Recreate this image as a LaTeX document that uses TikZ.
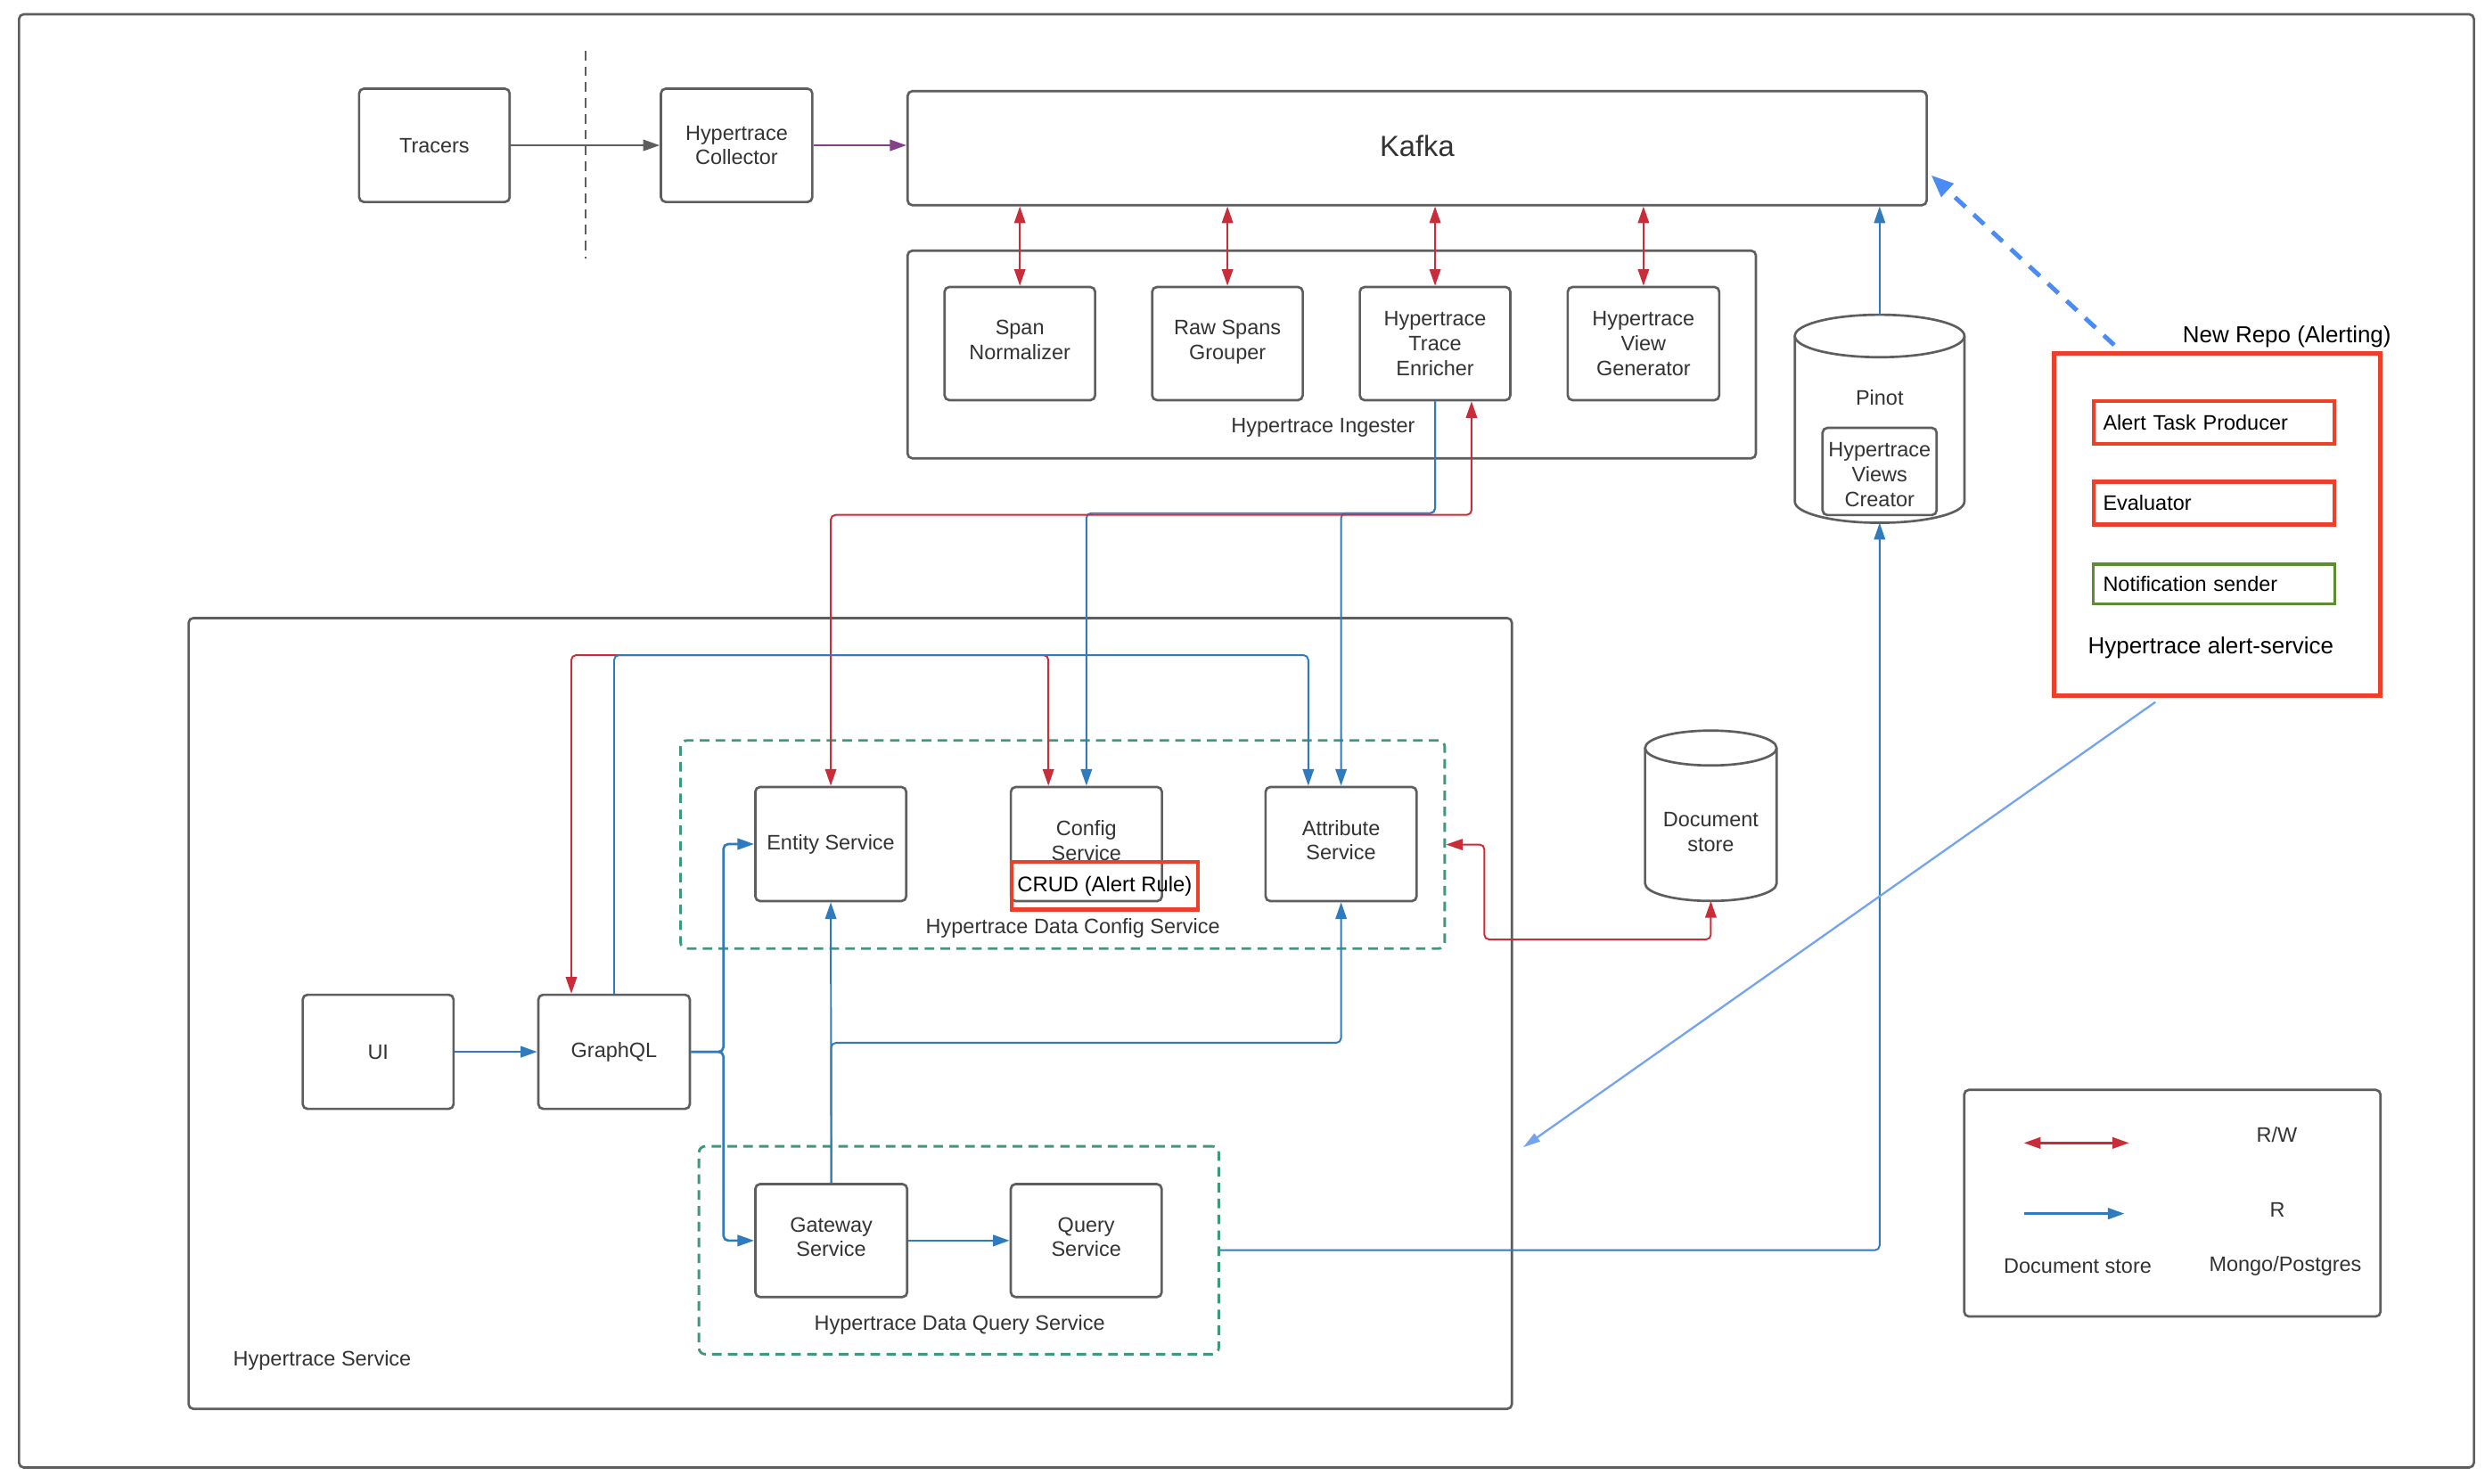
\documentclass[tikz,border=0pt]{standalone}
\usepackage{fontspec}
\setmainfont{Liberation Sans}
\usetikzlibrary{arrows.meta}
\definecolor{boxgray}{HTML}{5E5E5E}
\definecolor{txtc}{HTML}{333333}
\definecolor{redc}{HTML}{C92D39}
\definecolor{bluec}{HTML}{2F7BBD}
\definecolor{greend}{HTML}{3C9A7B}
\definecolor{alertred}{HTML}{EA412B}
\definecolor{notegreen}{HTML}{5E8C31}
\definecolor{purplec}{HTML}{834187}
\definecolor{dashblue}{HTML}{4A8BF5}
\definecolor{lightblue}{HTML}{74A4F0}
\newcommand{\fsn}{\fontsize{13.2pt}{15.6pt}\selectfont}
\newcommand{\fsl}{\fontsize{14.6pt}{17pt}\selectfont}
\begin{document}
\begin{tikzpicture}[x=1pt,y=-1pt,
  every node/.style={font=\fsn, text=txtc, align=center},
  box/.style={draw=boxgray, line width=1.5pt, rounded corners=3pt, fill=white, inner sep=0pt},
  up2/.style={text depth=4.5pt},
  cont/.style={draw=boxgray, line width=1.5pt, rounded corners=3pt, inner sep=0pt},
  gdash/.style={draw=greend, line width=1.6pt, dash pattern=on 6pt off 4pt, rounded corners=4pt, inner sep=0pt},
  abox/.style={line width=2.5pt, minimum height=27pt, text width=140pt, inner xsep=6pt, inner ysep=0pt, align=left, text=black},
  cyl/.style={draw=boxgray, line width=1.5pt, fill=white},
  rw/.style={draw=redc, line width=1.1pt, rounded corners=3pt, {Triangle[length=10.5pt,width=7pt]}-{Triangle[length=10.5pt,width=7pt]}},
  rd/.style={draw=bluec, line width=1.1pt, rounded corners=3pt, -{Triangle[length=10.5pt,width=7pt]}},
  rdt/.style={rd, line width=1.5pt},
]
\useasboundingbox (0,0) rectangle (1568,936);
\fill[white] (0,0) rectangle (1568,936);

% outer frame
\node[cont, minimum width=1549pt, minimum height=917pt] (frame) at (786.5,467.5) {};

% separator
\coordinate (sepT) at (369.4,32);
\coordinate (sepB) at (369.4,163);
\draw[boxgray, line width=0.9pt, dash pattern=on 6pt off 4pt] (sepT) -- (sepB);

% top row
\node[box, minimum width=95pt, minimum height=71.5pt] (tracers) at (274.1,91.7) {Tracers};
\node[box, minimum width=95.5pt, minimum height=71.5pt] (collector) at (464.8,91.7) {Hypertrace\\Collector};
\node[box, minimum width=643pt, minimum height=72pt, text depth=3.2pt, font=\fontsize{18.4pt}{22pt}\selectfont] (kafka) at (894.2,93.5) {Kafka};

% ingester
\node[cont, minimum width=535.3pt, minimum height=131pt] (ingester) at (840.3,223.7) {};
\node (ingl) at (834.9,270) {Hypertrace Ingester};
\node[box, up2, minimum width=95pt, minimum height=71.4pt] (span) at (643.5,216.8) {Span\\Normalizer};
\node[box, up2, minimum width=95pt, minimum height=71.4pt] (raw) at (774.5,216.8) {Raw Spans\\Grouper};
\node[box, minimum width=95pt, minimum height=71.4pt] (enricher) at (905.5,216.8) {Hypertrace\\Trace\\Enricher};
\node[box, minimum width=95.6pt, minimum height=71.4pt] (viewgen) at (1037,216.8) {Hypertrace\\View\\Generator};

% pinot
\draw[cyl] (1132.5,212) -- (1132.5,316.5) arc[start angle=180,end angle=360,x radius=53.5pt,y radius=13.4pt] -- (1239.5,212);
\draw[cyl] (1186,212) ellipse [x radius=53.5pt, y radius=13.4pt];
\coordinate (pinotT) at (1186,198.6);
\coordinate (pinotB) at (1186,329.9);
\node (pinotl) at (1186,251) {Pinot};
\node[box, minimum width=72pt, minimum height=55pt] (views) at (1186,297.5) {};
\node (viewsl) at (1186,299.6) {Hypertrace\\Views\\Creator};

% alert service
\node[draw=alertred, line width=3pt, minimum width=206pt, minimum height=216pt, inner sep=0pt] (alert) at (1399,331) {};
\node[text=black, font=\fsl] (newrepo) at (1443,212.7) {New Repo (Alerting)};
\node[abox, draw=alertred] (atp) at (1397,266.5) {Alert Task Producer};
\node[abox, draw=alertred] (eval) at (1397,317.5) {Evaluator};
\node[abox, draw=notegreen, line width=1.8pt, minimum height=25pt] (notif) at (1397,368.5) {Notification sender};
\node[text=black, font=\fsl] (alertl) at (1395,408.7) {Hypertrace alert-service};

% hypertrace service
\node[cont, minimum width=835pt, minimum height=499pt] (svc) at (536.5,639.5) {};
\node[anchor=west, inner sep=0pt] (svcl) at (147,858.6) {Hypertrace Service};

% data config service
\node[gdash, minimum width=482.2pt, minimum height=131.3pt] (ccont) at (670.5,532.9) {};
\node (ccl) at (677,585.9) {Hypertrace Data Config Service};
\node[box, minimum width=95.2pt, minimum height=72pt] (entity) at (524.2,532.6) {Entity Service};
\node[box, minimum width=95.3pt, minimum height=72pt] (config) at (685.5,532.6) {};
\node (configl) at (685.5,530.3) {Config\\Service};
\node[draw=alertred, line width=2.5pt, minimum width=117.6pt, minimum height=30pt, inner sep=0pt, text=black, font=\fontsize{13.4pt}{16pt}\selectfont] (crud) at (697,559) {CRUD (Alert Rule)};
\node[box, text depth=5pt, minimum width=95.3pt, minimum height=72pt] (attribute) at (846.2,532.6) {Attribute\\Service};

% document store
\draw[cyl] (1038,472) -- (1038,557.5) arc[start angle=180,end angle=360,x radius=41.5pt,y radius=11pt] -- (1121,472);
\draw[cyl] (1079.5,472) ellipse [x radius=41.5pt, y radius=11pt];
\coordinate (docB) at (1079.5,568.5);
\node (docl) at (1079.5,525) {Document\\store};

% UI / GraphQL
\node[box, minimum width=95.2pt, minimum height=72pt] (ui) at (238.6,663.7) {UI};
\node[box, minimum width=95.6pt, minimum height=72pt] (graphql) at (387.5,663.7) {GraphQL};

% data query service
\node[gdash, minimum width=328pt, minimum height=131.2pt] (qcont) at (605,788.9) {};
\node (qcl) at (605.5,836) {Hypertrace Data Query Service};
\node[box, up2, minimum width=95.8pt, minimum height=71.3pt] (gateway) at (524.5,782.8) {Gateway\\Service};
\node[box, up2, minimum width=95.2pt, minimum height=71.3pt] (query) at (685.4,782.8) {Query\\Service};

% legend
\node[cont, minimum width=262.7pt, minimum height=143pt] (legend) at (1370.7,759.2) {};
\coordinate (lr1) at (1277,721.2);
\coordinate (lr2) at (1343.4,721.2);
\coordinate (lb1) at (1277,765.8);
\coordinate (lb2) at (1340.5,765.8);
\node (lrw) at (1436.6,715.8) {R/W};
\node (lr) at (1437,763.6) {R};
\node (ldoc) at (1311,799) {Document store};
\node (lmongo) at (1442,799) {Mongo/Postgres};

% helper coordinates
\coordinate (yA) at (0,324.9);
\coordinate (yAb) at (0,323.8);
\coordinate (yB) at (0,413.4);
\coordinate (yC) at (0,658);
\coordinate (yD) at (0,592.8);
\coordinate (xJ) at (456.5,0);
\coordinate (xE) at (936.6,0);
\coordinate (dashS) at (1334,217.7);
\coordinate (dashE) at (1218.6,110.6);
\coordinate (diagS) at (1360,443);
\coordinate (diagE) at (961,724);

% connectors: top
\draw[boxgray, line width=1.4pt, -{Triangle[length=10.5pt,width=7pt]}] (tracers.east) -- (collector.west);
\draw[purplec, line width=1.4pt, -{Triangle[length=10.5pt,width=7pt]}] (collector.east) -- (collector.east -| kafka.west);
\draw[rw] (span.north |- kafka.south) -- (span.north);
\draw[rw] (raw.north |- kafka.south) -- (raw.north);
\draw[rw] (enricher.north |- kafka.south) -- (enricher.north);
\draw[rw] (viewgen.north |- kafka.south) -- (viewgen.north);
\draw[rd] (pinotT) -- (pinotT |- kafka.south);

% enricher to data config
\draw[rd] (enricher.south) |- (yAb -| attribute.north) -- (attribute.north);
\draw[rd] (enricher.south) |- (yAb -| config.north) -- (config.north);
\draw[rw] ([xshift=23pt]enricher.south) |- (yA -| entity.north) -- (entity.north);

% graphql to data config
\draw[rw] ([xshift=-27pt]graphql.north) |- ([xshift=-24pt]config.north |- yB) -- ([xshift=-24pt]config.north);
\draw[rd] (graphql.north) |- ([xshift=-20.7pt]attribute.north |- yB) -- ([xshift=-20.7pt]attribute.north);

% ui / graphql / gateway
\draw[rdt] (ui.east) -- (graphql.west);
\draw[rdt] (graphql.east) -| (entity.west -| xJ) -- (entity.west);
\draw[rdt] (graphql.east) -| (gateway.west -| xJ) -- (gateway.west);
\draw[rdt] (gateway.east) -- (query.west);
\draw[rd] (gateway.north) -- (entity.south);
\draw[rd] (gateway.north) |- (attribute.south |- yC) -- (attribute.south);

% query service to pinot
\draw[rd] (qcont.east) -| (pinotB);

% document store to data config
\draw[rw] (docB) |- (xE |- yD) |- (ccont.east);

% alert arrows
\draw[dashblue, line width=2.8pt, dash pattern=on 9pt off 7pt, -{Triangle[length=14pt,width=11pt]}] (dashS) -- (dashE);
\draw[lightblue, line width=1.3pt, -{Triangle[length=11pt,width=6pt]}] (diagS) -- (diagE);

% legend arrows
\draw[rw, line width=1.5pt] (lr1) -- (lr2);
\draw[rdt] (lb1) -- (lb2);
\end{tikzpicture}
\end{document}
